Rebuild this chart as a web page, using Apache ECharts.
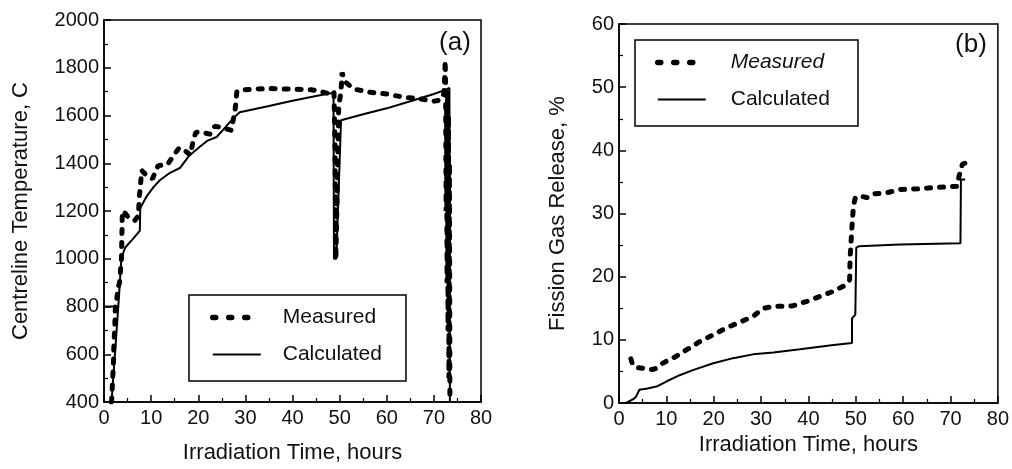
<!DOCTYPE html>
<html>
<head>
<meta charset="utf-8">
<script src="https://cdn.jsdelivr.net/npm/echarts@6/dist/echarts.min.js"></script>
<style>
html, body { margin: 0; padding: 0; background: #fff; }
#main { width: 1012px; height: 469px; }
</style>
</head>
<body>
<div id="main"></div>
<script>
// (a) centreline temperature, [hours, C]
var tempMeasured = [
    [1.6,400],[1.8,480],[2.0,560],[2.1,640],[2.3,720],[2.4,790],[2.7,830],[3.0,880],[3.3,900],
    [3.5,950],[3.7,1000],[3.8,1100],[3.9,1200],[4.5,1190],[5.5,1165],[6.5,1160],[7.3,1180],
    [7.5,1260],[7.7,1300],[8.0,1370],[9,1350],[10.3,1335],[11,1370],[11.5,1390],[13.5,1395],
    [15,1440],[16,1465],[17,1455],[18.3,1435],[19,1500],[19.5,1530],[21,1528],[22.5,1522],
    [23.5,1555],[25,1550],[27,1538],[27.8,1620],[28,1660],[28.2,1700],[30,1708],[32,1711],
    [35,1713],[40,1710],[44,1708],[46,1700],[48,1690],[48.8,1700],[49.0,1500],[49.2,1000],
    [49.5,1300],[49.8,1640],[50.3,1700],[50.5,1780],[51.2,1740],[53,1711],[56.5,1697],
    [60,1690],[63.5,1677],[67,1670],[70,1660],[71.5,1665],[72.1,1690],[72.3,1760],[72.4,1830],
    [72.5,1700],[72.6,1200],[72.7,1650],[72.8,900],[72.9,1700],[73.0,700],[73.1,1600],
    [73.2,500],[73.3,1400],[73.4,400]
];
var tempCalcStart = [[0,800],[2.3,800]];
var tempCalculated = [
    [1.6,400],[2.5,650],[3.2,850],[3.7,1006],[4.5,1047],[6,1080],[7.6,1117],[7.7,1213],
    [9,1260],[10.5,1300],[11.9,1330],[14,1360],[16.1,1380],[18,1430],[20.4,1470],[22,1495],
    [23.9,1510],[25.5,1545],[27.5,1590],[28.8,1614],[35,1640],[40,1662],[45,1682],[48.7,1695],
    [48.8,1000],[49.3,1000],[50.3,1580],[55,1605],[60,1630],[65,1660],[70,1690],[72,1704],
    [73.3,1715],[73.4,400]
];

// (b) fission gas release, [hours, %]
var fgrMeasured = [
    [2.5,7.0],[2.9,6.0],[4,5.6],[5,5.5],[6,5.4],[7,5.3],[7.9,5.5],[9,6.2],[10,6.6],[12.1,7.4],
    [14.2,8.4],[15.3,8.9],[17,9.7],[19.9,10.8],[22.7,11.9],[25.5,12.8],[28.3,13.7],[30.5,15.0],
    [32.6,15.3],[35.4,15.3],[36.8,15.4],[39.7,16.1],[42.5,16.9],[45.3,17.7],[47.4,18.5],
    [48.7,19.5],[48.8,23],[49.2,28],[49.5,31.2],[49.9,32.5],[50.9,32.8],[52.3,32.5],[53.7,33.1],
    [56.6,33.3],[59.4,33.8],[63,33.9],[66.5,34.1],[71.4,34.3],[71.8,35.9],[72.5,37.8],[73.5,38.1]
];
var fgrCalculated = [
    [1.5,0],[3,0.6],[3.6,1.0],[4.3,2.1],[6,2.3],[7.9,2.6],[10,3.4],[12.8,4.4],[15.6,5.2],
    [19.9,6.3],[24.1,7.1],[28.3,7.7],[32.6,8.0],[38.2,8.5],[45.3,9.2],[49.2,9.5],[49.2,13.4],
    [49.9,14],[50.1,24.6],[50.6,24.8],[59.4,25.1],[72.1,25.3],[72.2,35.4],[73.1,35.4]
];

var font = "'Liberation Sans', Arial, sans-serif";
var myChart = echarts.init(document.getElementById('main'));

function xAxisOf(idx, gap) {
    return {
        gridIndex: idx, type: 'value', min: 0, max: 80, interval: 10,
        name: 'Irradiation Time, hours', nameLocation: 'middle', nameGap: gap,
        nameTextStyle: { fontFamily: font, fontSize: 22, color: '#111' },
        axisLine: { lineStyle: { color: '#000', width: 1.5 } },
        axisTick: { inside: true, length: 7, lineStyle: { color: '#000', width: 1.5 } },
        minorTick: { show: true, splitNumber: 2, length: 4, lineStyle: { color: '#000', width: 1.2 } },
        axisLabel: { fontFamily: font, fontSize: 20, color: '#111', margin: 6 },
        splitLine: { show: false }
    };
}
function yAxisOf(idx, min, max, step, name, gap) {
    return {
        gridIndex: idx, type: 'value', min: min, max: max, interval: step,
        name: name, nameLocation: 'middle', nameGap: gap,
        nameTextStyle: { fontFamily: font, fontSize: 22, color: '#111' },
        axisLine: { lineStyle: { color: '#000', width: 1.5 } },
        axisTick: { inside: true, length: 7, lineStyle: { color: '#000', width: 1.5 } },
        minorTick: { show: true, splitNumber: 2, length: 4, lineStyle: { color: '#000', width: 1.2 } },
        axisLabel: { fontFamily: font, fontSize: 20, color: '#111', margin: 5,
                     formatter: function (v) { return String(v); } },
        splitLine: { show: false }
    };
}

var measuredStyle = { color: '#000', width: 5, type: [4, 9], cap: 'round' };
var calcStyle = { color: '#000', width: 2 };
var legendItems = [
    { name: 'Measured', lineStyle: { color: '#000', width: 5.5, type: [3, 13], cap: 'round' } },
    { name: 'Calculated', lineStyle: { color: '#000', width: 2.2, type: 'solid' } }
];

option = {
    animation: false,
    backgroundColor: '#fff',
    grid: [
        { left: 104, top: 20, width: 377, height: 386, show: true, borderColor: '#000', borderWidth: 1.5 },
        { left: 619, top: 24, width: 379, height: 379, show: true, borderColor: '#000', borderWidth: 1.5 }
    ],
    xAxis: [xAxisOf(0, 40), xAxisOf(1, 24)],
    yAxis: [
        yAxisOf(0, 400, 2000, 200, 'Centreline Temperature, C', 72),
        yAxisOf(1, 0, 60, 10, 'Fission Gas Release, %', 50)
    ],
    legend: [
        {
            orient: 'vertical', left: 189, top: 295,
            data: legendItems,
            itemWidth: 48, itemHeight: 14, itemGap: 16,
            padding: [12, 24, 16, 21],
            itemStyle: { opacity: 0 },
            borderColor: '#000', borderWidth: 1.5, backgroundColor: '#fff',
            textStyle: { fontFamily: font, fontSize: 21, color: '#111', padding: [0, 0, 0, 17] }
        },
        {
            orient: 'vertical', left: 635, top: 40,
            data: legendItems,
            itemWidth: 48, itemHeight: 14, itemGap: 16,
            padding: [12, 28, 16, 20],
            itemStyle: { opacity: 0 },
            borderColor: '#000', borderWidth: 1.5, backgroundColor: '#fff',
            formatter: function (name) {
                return name === 'Measured' ? '{i|' + name + '}' : name;
            },
            textStyle: {
                fontFamily: font, fontSize: 21, color: '#111', padding: [0, 0, 0, 20],
                rich: { i: { fontFamily: font, fontSize: 21, color: '#111', fontStyle: 'italic' } }
            }
        }
    ],
    graphic: [
        { type: 'text', x: 455, y: 43,
          style: { text: '(a)', font: '26px ' + font, fill: '#111', align: 'center', verticalAlign: 'middle' } },
        { type: 'text', x: 971, y: 45,
          style: { text: '(b)', font: '26px ' + font, fill: '#111', align: 'center', verticalAlign: 'middle' } }
    ],
    series: [
        { name: 'Measured', type: 'line', xAxisIndex: 0, yAxisIndex: 0, showSymbol: false, symbol: 'none',
          lineStyle: measuredStyle, itemStyle: { color: '#000' }, data: tempMeasured },
        { name: 'Calculated', type: 'line', xAxisIndex: 0, yAxisIndex: 0, showSymbol: false, symbol: 'none',
          lineStyle: calcStyle, itemStyle: { color: '#000' }, data: tempCalculated },
        { name: 'Calculated', type: 'line', xAxisIndex: 0, yAxisIndex: 0, showSymbol: false, symbol: 'none',
          lineStyle: calcStyle, itemStyle: { color: '#000' }, data: tempCalcStart },
        { name: 'Measured', type: 'line', xAxisIndex: 1, yAxisIndex: 1, showSymbol: false, symbol: 'none',
          lineStyle: measuredStyle, itemStyle: { color: '#000' }, data: fgrMeasured },
        { name: 'Calculated', type: 'line', xAxisIndex: 1, yAxisIndex: 1, showSymbol: false, symbol: 'none',
          lineStyle: calcStyle, itemStyle: { color: '#000' }, data: fgrCalculated }
    ]
};
myChart.setOption(option);
</script>
</body>
</html>
